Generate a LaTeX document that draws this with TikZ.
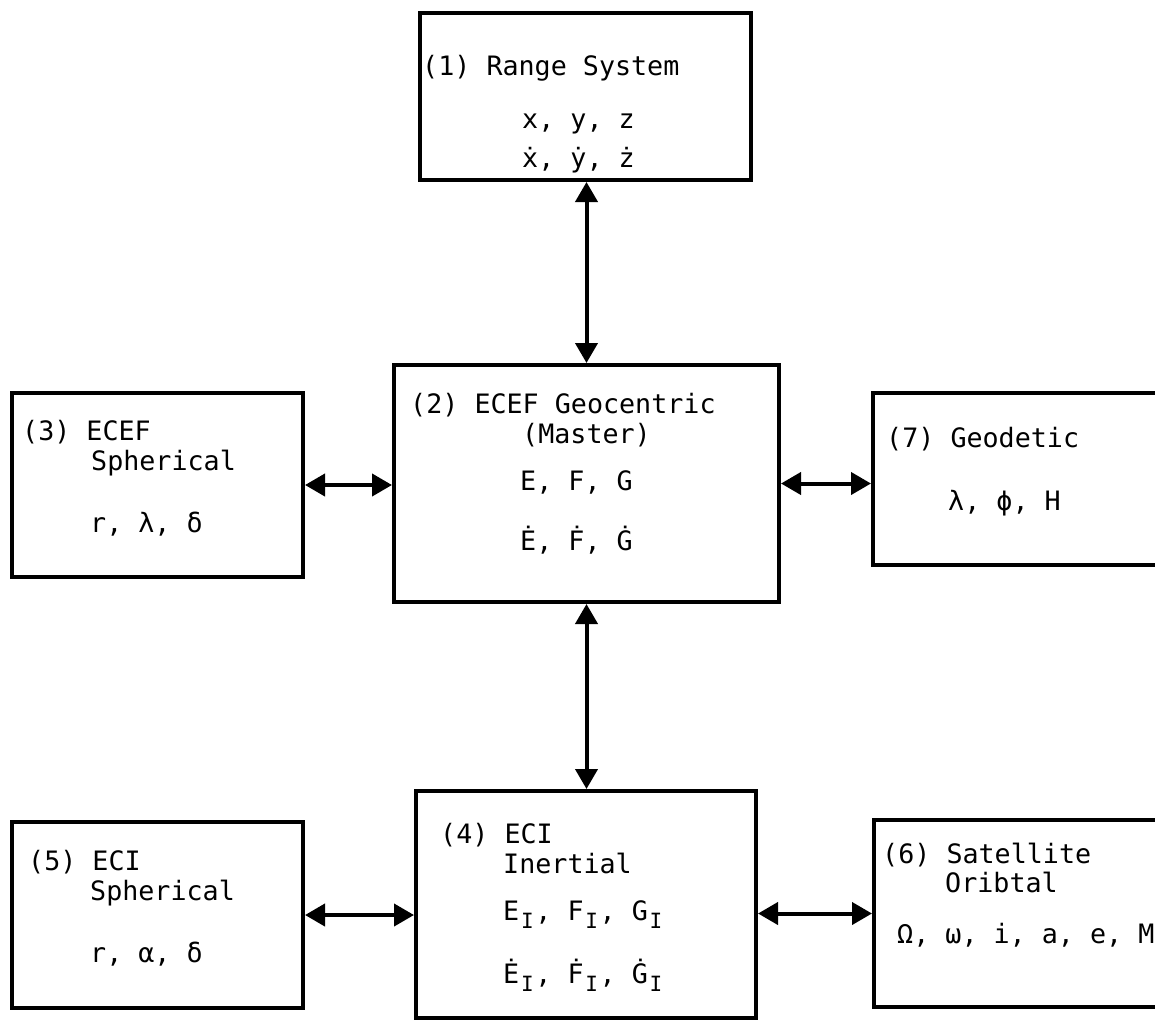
\documentclass[tikz,border=0pt]{standalone}
\usepackage{fontspec}
\setmonofont{DejaVu Sans Mono}
\usetikzlibrary{arrows.meta}
\newcommand{\subI}{\makebox[16.1pt]{\raisebox{-8pt}{\fontsize{21}{21}\selectfont I}}}
\begin{document}
\begin{tikzpicture}[x=1pt,y=-1pt,
    box/.style={draw,line width=4pt,inner sep=0pt},
    txt/.style={anchor=base west,inner sep=0pt,font=\ttfamily\fontsize{26.7}{30}\selectfont},
    link/.style={line width=4pt,{Triangle[length=20pt,width=22pt]}-{Triangle[length=20pt,width=22pt]}}]
  \useasboundingbox (0,0) rectangle (1155,1021);
  \clip (0,0) rectangle (1155,1021);
  \node[box,minimum width=331pt,minimum height=167pt] (range) at (585.5,96.5) {};
  \node[box,minimum width=385pt,minimum height=237pt] (master) at (586.5,483.5) {};
  \node[box,minimum width=291pt,minimum height=184pt] (ecefsph) at (157.5,485) {};
  \node[box,minimum width=300pt,minimum height=172pt] (geodetic) at (1023,479) {};
  \node[box,minimum width=340pt,minimum height=227pt] (inertial) at (586,904.5) {};
  \node[box,minimum width=291pt,minimum height=186pt] (ecisph) at (157.5,915) {};
  \node[box,minimum width=300pt,minimum height=187pt] (orbital) at (1024,913.5) {};
  \draw
    (422,75) node[txt] (range-t) {(1) Range System}
    (522,128) node[txt] (range-a) {x, y, z}
    (522,167) node[txt] (range-b) {ẋ, ẏ, ż}
    (410,413) node[txt] (master-t) {(2) ECEF Geocentric}
    (522,443) node[txt] (master-s) {(Master)}
    (520,490) node[txt] (master-a) {E, F, G}
    (520,550) node[txt] (master-b) {Ė, Ḟ, Ġ}
    (22,440) node[txt] (ecefsph-t) {(3) ECEF}
    (91,470) node[txt] (ecefsph-s) {Spherical}
    (90,532) node[txt] (ecefsph-a) {r, λ, δ}
    (886,447) node[txt] (geodetic-t) {(7) Geodetic}
    (948,510) node[txt] (geodetic-a) {λ, ϕ, H}
    (440,843) node[txt] (inertial-t) {(4) ECI}
    (503,873) node[txt] (inertial-s) {Inertial}
    (503,920) node[txt] (inertial-a) {E\subI, F\subI, G\subI}
    (503,983) node[txt] (inertial-b) {Ė\subI, Ḟ\subI, Ġ\subI}
    (28,870) node[txt] (ecisph-t) {(5) ECI}
    (90,900) node[txt] (ecisph-s) {Spherical}
    (90,962) node[txt] (ecisph-a) {r, α, δ}
    (882,863) node[txt] (orbital-t) {(6) Satellite}
    (945,892) node[txt] (orbital-s) {Oribtal}
    (897,943) node[txt] (orbital-a) {Ω, ω, i, a, e, M};
  \begin{scope}[link]
    \draw (range.south -| master.north) to (master.north);
    \draw (master.south) to (master.south |- inertial.north);
    \draw (ecefsph.east) to (ecefsph.east -| master.west);
    \draw (master.east) to (master.east -| geodetic.west);
    \draw (ecisph.east) to (ecisph.east -| inertial.west);
    \draw (inertial.east |- orbital.west) to (orbital.west);
  \end{scope}
\end{tikzpicture}
\end{document}
